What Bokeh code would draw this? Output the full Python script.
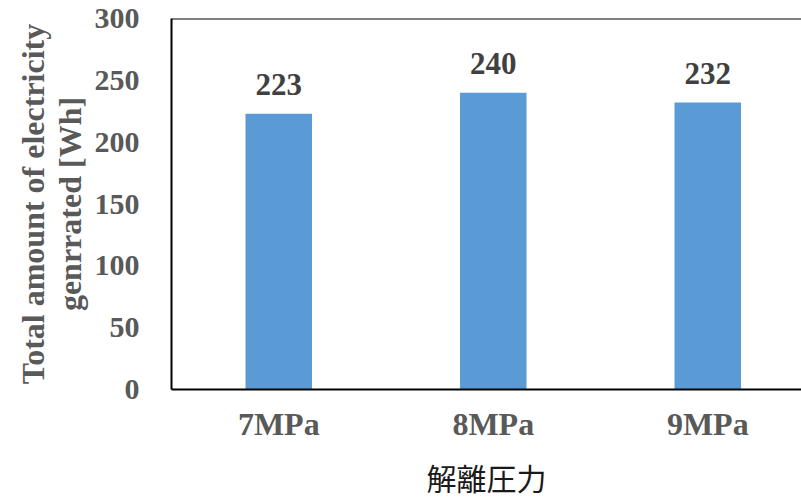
from bokeh.plotting import figure
from bokeh.models import Range1d, FixedTicker, ColumnDataSource, Span, LabelSet, LinearAxis
from bokeh.embed import file_html
from bokeh.resources import INLINE

categories = ["7MPa", "8MPa", "9MPa"]
values = [223, 240, 232]
y_ticks = [0, 50, 100, 150, 200, 250, 300]
y_title = ["Total amount of electricity", "genrrated [Wh]"]
x_title = "解離圧力"

serif = "Liberation Serif"
bar_color = "#5B9BD5"
grey = "#595959"

xs = [i + 0.5 for i in range(len(categories))]
src = ColumnDataSource(dict(x=xs, top=values, label=[str(v) for v in values]))

p = figure(width=801, height=501, output_backend="svg", toolbar_location=None,
           x_range=Range1d(0, 2.937), y_range=Range1d(0, 300),
           min_border_left=171, min_border_top=18, min_border_bottom=112,
           min_border_right=0)
p.outline_line_color = None
p.grid.visible = False

p.vbar(x="x", top="top", width=0.31, source=src, color=bar_color, line_color=None)

labels = LabelSet(x="x", y="top", text="label", source=src, text_align="center",
                  text_baseline="bottom", y_offset=19, text_font=serif,
                  text_font_style="bold", text_font_size="31px", text_color="#404040")
p.add_layout(labels)

# top edge of the plot frame
p.add_layout(Span(location=300, dimension="width", line_color="black", line_width=2))

p.yaxis.ticker = FixedTicker(ticks=y_ticks)
p.yaxis.major_tick_line_color = None
p.yaxis.minor_tick_line_color = None
p.yaxis.axis_line_color = "black"
p.yaxis.axis_line_width = 2
p.yaxis.major_label_text_font = serif
p.yaxis.major_label_text_font_style = "bold"
p.yaxis.major_label_text_font_size = "30px"
p.yaxis.major_label_text_color = grey
p.yaxis.major_label_standoff = 26
p.yaxis.axis_label = y_title[1]
p.yaxis.axis_label_text_font = serif
p.yaxis.axis_label_text_font_style = "bold"
p.yaxis.axis_label_text_font_size = "32px"
p.yaxis.axis_label_text_color = grey
p.yaxis.axis_label_standoff = 4

# outer axis carrying only the first line of the vertical title
outer = LinearAxis(ticker=FixedTicker(ticks=[]), axis_line_color=None,
                   major_tick_line_color=None, minor_tick_line_color=None,
                   major_label_text_font_size="0px",
                   axis_label=y_title[0], axis_label_text_font=serif,
                   axis_label_text_font_style="bold", axis_label_text_font_size="32px",
                   axis_label_text_color=grey, axis_label_standoff=-2)
p.add_layout(outer, "left")

p.xaxis.ticker = FixedTicker(ticks=xs)
p.xaxis.major_label_overrides = {x: c for x, c in zip(xs, categories)}
p.xaxis.major_tick_line_color = None
p.xaxis.minor_tick_line_color = None
p.xaxis.axis_line_color = "black"
p.xaxis.axis_line_width = 2
p.xaxis.major_label_text_font = serif
p.xaxis.major_label_text_font_style = "bold"
p.xaxis.major_label_text_font_size = "32px"
p.xaxis.major_label_text_color = grey
p.xaxis.major_label_standoff = 10
p.xaxis.axis_label = x_title
p.xaxis.axis_label_text_font = "Noto Sans CJK JP"
p.xaxis.axis_label_text_font_style = "normal"
p.xaxis.axis_label_text_font_size = "30px"
p.xaxis.axis_label_text_color = "#1a1a1a"
p.xaxis.axis_label_standoff = 10

open("out.html", "w").write(file_html(p, INLINE))
